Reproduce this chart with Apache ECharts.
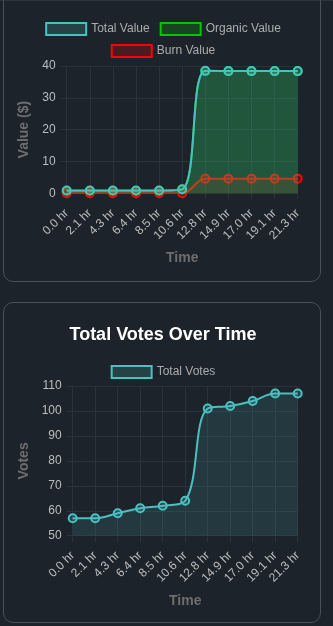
<!DOCTYPE html>
<html>
<head>
<meta charset="utf-8">
<script src="https://cdn.jsdelivr.net/npm/echarts@6/dist/echarts.min.js"></script>
<style>
  html, body { margin: 0; padding: 0; background: #1d232a; width: 333px; height: 626px; overflow: hidden; }
  .topline { position: absolute; left: 0; top: 0; width: 333px; height: 1px; background: #2c343c; }
  .card { position: absolute; left: 3px; width: 318px; border: 1px solid #4a5057; border-radius: 10px; box-sizing: border-box; }
  #card1 { top: -30px; height: 312px; }
  #card2 { top: 302px; height: 321px; }
  .chart { position: absolute; left: 4px; width: 318px; }
  #c1 { top: 0; height: 280px; }
  #c2 { top: 303px; height: 318px; }
</style>
</head>
<body>
<div class="topline"></div>
<div class="card" id="card1"></div>
<div class="card" id="card2"></div>
<div class="chart" id="c1"></div>
<div class="chart" id="c2"></div>
<script>
// ---- data ----
const timeLabels = ['0.0 hr','2.1 hr','4.3 hr','6.4 hr','8.5 hr','10.6 hr','12.8 hr','14.9 hr','17.0 hr','19.1 hr','21.3 hr'];
const totalValue = [0.9, 0.9, 0.9, 0.9, 0.9, 1.3, 38.5, 38.4, 38.4, 38.4, 38.4];
const organicValue = [0.8, 0.8, 0.8, 0.8, 0.8, 1.2, 38.4, 38.4, 38.4, 38.4, 38.4];
const burnValue = [0, 0, 0, 0, 0, 0, 4.6, 4.6, 4.6, 4.6, 4.6];
const totalVotes = [57, 57, 59, 61, 62, 64, 101, 102, 104, 107, 107];
const valueTicks = { min: 0, max: 40, interval: 10 };
const voteTicks = { min: 50, max: 110, interval: 10 };

const FONT = 'Liberation Sans, Arial, sans-serif';
const gridColor = '#2b323a';
const tickLabelColor = '#bdbdbd';
const legendColor = '#acacac';
const titleAxisColor = '#6e6e6e';

const TEAL = 'rgb(75,192,192)', TEAL_F = 'rgba(75,192,192,0.2)', TEAL_AREA = 'rgba(75,192,192,0.24)';
const GREEN = 'rgb(0,200,0)', GREEN_F = 'rgba(0,200,0,0.2)', GREEN_AREA = 'rgba(0,220,0,0.24)';
const RED = 'rgb(255,0,0)', RED_F = 'rgba(255,0,0,0.2)';

function xAxisCfg() {
  return {
    type: 'category', data: timeLabels, boundaryGap: false,
    name: 'Time', nameLocation: 'middle', nameGap: 58,
    nameTextStyle: { color: titleAxisColor, fontFamily: FONT, fontSize: 14, fontWeight: 'bold' },
    axisLine: { show: true, lineStyle: { color: gridColor } },
    axisTick: { show: true, length: 6, lineStyle: { color: gridColor } },
    splitLine: { show: true, lineStyle: { color: gridColor } },
    axisLabel: { rotate: 45, margin: 18, color: tickLabelColor, fontFamily: FONT, fontSize: 12, interval: 0 }
  };
}
function yAxisCfg(name, ticks, gap) {
  return {
    type: 'value', min: ticks.min, max: ticks.max, interval: ticks.interval,
    name: name, nameLocation: 'middle', nameGap: gap, nameRotate: 90,
    nameTextStyle: { color: titleAxisColor, fontFamily: FONT, fontSize: 14, fontWeight: 'bold' },
    axisLine: { show: true, lineStyle: { color: gridColor } },
    axisTick: { show: true, length: 6, lineStyle: { color: gridColor } },
    splitLine: { show: true, lineStyle: { color: gridColor } },
    axisLabel: { margin: 11, color: tickLabelColor, fontFamily: FONT, fontSize: 12 }
  };
}
function lineSeries(name, data, line, fill, area, z) {
  return {
    name: name, type: 'line', data: data, smooth: 0.4, z: z,
    symbol: 'circle', symbolSize: 8, showSymbol: true,
    lineStyle: { color: line, width: 2 },
    itemStyle: { color: fill, borderColor: line, borderWidth: 2 },
    areaStyle: { color: area, origin: 'start' },
    emphasis: { disabled: true }
  };
}
function legendItem(name, line, fill) {
  return { name: name, icon: 'rect', itemStyle: { color: fill, borderColor: line, borderWidth: 2 } };
}
const legendCommon = {
  left: 'center', itemWidth: 40, itemHeight: 12, itemGap: 10,
  textStyle: { color: legendColor, fontFamily: FONT, fontSize: 12 },
  selectedMode: false
};

const c1 = echarts.init(document.getElementById('c1'), null, { renderer: 'canvas' });
c1.setOption({
  animation: false,
  textStyle: { fontFamily: FONT },
  legend: [
    Object.assign({}, legendCommon, { top: 17, data: [legendItem('Total Value', TEAL, TEAL_F), legendItem('Organic Value', GREEN, GREEN_F)] }),
    Object.assign({}, legendCommon, { top: 39, data: [legendItem('Burn Value', RED, RED_F)] })
  ],
  grid: { left: 62.7, right: 24.3, top: 66, bottom: 86.7, containLabel: false },
  xAxis: xAxisCfg(),
  yAxis: yAxisCfg('Value ($)', valueTicks, 27),
  series: [
    lineSeries('Burn Value', burnValue, RED, RED_F, RED_F, 2),
    lineSeries('Organic Value', organicValue, GREEN, GREEN_F, GREEN_AREA, 3),
    lineSeries('Total Value', totalValue, TEAL, TEAL_F, TEAL_AREA, 4)
  ]
});

const c2 = echarts.init(document.getElementById('c2'), null, { renderer: 'canvas' });
c2.setOption({
  animation: false,
  textStyle: { fontFamily: FONT },
  title: { text: 'Total Votes Over Time', left: 'center', top: 18,
    textStyle: { color: '#ffffff', fontFamily: FONT, fontSize: 18, fontWeight: 'bold' } },
  legend: Object.assign({}, legendCommon, { top: 57, data: [legendItem('Total Votes', TEAL, TEAL_F)] }),
  grid: { left: 68.7, right: 24.3, top: 83, bottom: 85.3, containLabel: false },
  xAxis: xAxisCfg(),
  yAxis: yAxisCfg('Votes', voteTicks, 40),
  series: [ lineSeries('Total Votes', totalVotes, TEAL, TEAL_F, TEAL_F, 2) ]
});
</script>
</body>
</html>
